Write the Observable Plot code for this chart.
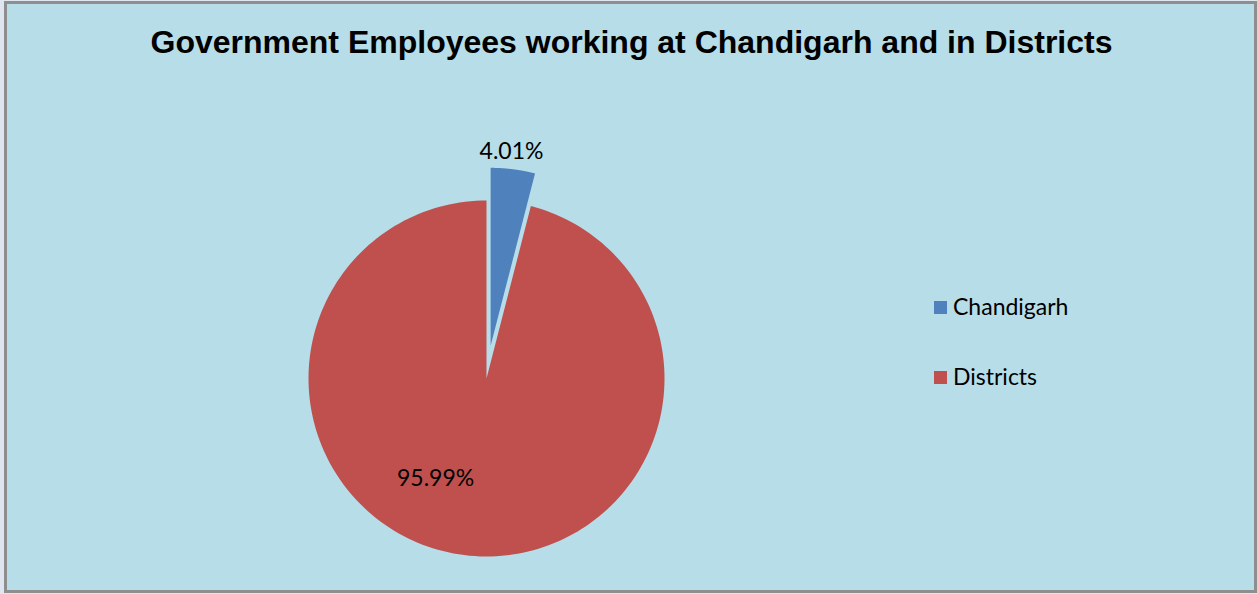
<!DOCTYPE html>
<html>
<head>
<meta charset="utf-8">
<script src="https://cdn.jsdelivr.net/npm/d3@7"></script>
<script src="https://cdn.jsdelivr.net/npm/@observablehq/plot@0.6"></script>
<style>
  html, body { margin: 0; padding: 0; background: #dfe6ef; }
  #frame { position: absolute; left: 4px; top: 1px; width: 1247px; height: 586px;
           border: 3px solid #8e8e8e; background: #b7dde8; }
  #title { position: absolute; left: 0; top: 26px; width: 1263px; text-align: center; line-height: 32px;
           font-family: "Liberation Sans", Arial, sans-serif; font-weight: bold; font-size: 32px; color: #000; }
  #chart { position: absolute; left: 0; top: 0; }
  .leg { position: absolute; font-family: Lato, "Open Sans", sans-serif; font-size: 23px; color: #000; line-height: 23px; white-space: nowrap; }
  .sw { position: absolute; width: 13px; height: 13px; }
</style>
</head>
<body>
<div id="frame"></div>
<div id="title"></div>
<div id="chart"></div>
<div id="legend"></div>
<script>
const titleText = "Government Employees working at Chandigarh and in Districts";
const categories = ["Chandigarh", "Districts"];
const values = [4.01, 95.99];
const labels = ["4.01%", "95.99%"];
const colors = ["#4f81bd", "#c0504d"];

document.getElementById("title").textContent = titleText;

// pie geometry in radius units
const explode = [0.185, 0];
const arcs = d3.pie().sort(null).value(d => d)(values);
const pts = [];
arcs.forEach((a, i) => {
  const mid = (a.startAngle + a.endAngle) / 2;
  const cx = explode[i] * Math.sin(mid), cy = explode[i] * Math.cos(mid);
  pts.push({cat: categories[i], x: cx, y: cy});
  const N = 200;
  for (let k = 0; k <= N; k++) {
    const t = a.startAngle + (a.endAngle - a.startAngle) * k / N;
    pts.push({cat: categories[i], x: cx + Math.sin(t), y: cy + Math.cos(t)});
  }
  pts.push({cat: categories[i], x: cx, y: cy});
});

// label positions (angle in degrees clockwise from top, radius)
const labelPos = [{ang: 6.3, r: 1.28}, {ang: 207, r: 0.63}];
const labelData = labels.map((l, i) => ({
  text: l,
  x: labelPos[i].r * Math.sin(labelPos[i].ang * Math.PI / 180),
  y: labelPos[i].r * Math.cos(labelPos[i].ang * Math.PI / 180)
}));

const R = 178, CX = 486, CY = 378, W = 1257, H = 594;
const chart = Plot.plot({
  width: W, height: H,
  margin: 0,
  style: {background: "transparent", overflow: "visible"},
  x: {domain: [-CX / R, (W - CX) / R], range: [0, W], axis: null},
  y: {domain: [-(H - CY) / R, CY / R], range: [H, 0], axis: null},
  color: {domain: categories, range: colors},
  marks: [
    Plot.line(pts, {x: "x", y: "y", z: "cat", fill: "cat", stroke: "none"}),
    Plot.text(labelData, {x: "x", y: "y", text: "text", fontSize: 23,
      fontFamily: "Lato, 'Open Sans', sans-serif", fill: "#000"})
  ]
});
document.getElementById("chart").appendChild(chart);

// legend
const leg = document.getElementById("legend");
const legTop = [301, 371];
categories.forEach((c, i) => {
  const sw = document.createElement("div");
  sw.className = "sw";
  sw.style.left = "934px"; sw.style.top = legTop[i] + "px";
  sw.style.background = colors[i];
  leg.appendChild(sw);
  const t = document.createElement("div");
  t.className = "leg";
  t.style.left = "953px"; t.style.top = (legTop[i] - 6.4) + "px";
  t.textContent = c;
  leg.appendChild(t);
});
</script>
</body>
</html>
